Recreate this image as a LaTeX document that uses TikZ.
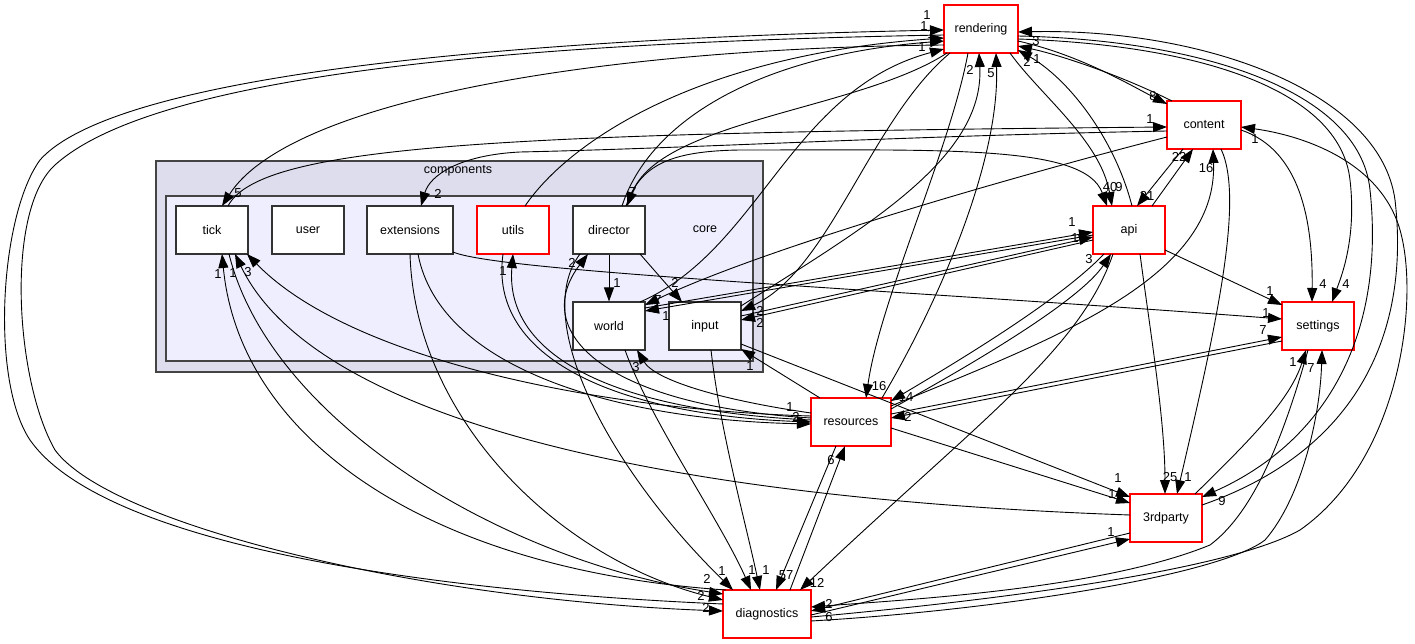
\documentclass[tikz,border=0pt]{standalone}
\usepackage{fontspec}
\setmainfont{Liberation Sans}
\usetikzlibrary{arrows.meta}
\definecolor{clout}{HTML}{DDDDEE}
\definecolor{clin}{HTML}{EEEEFF}
\definecolor{clbd}{HTML}{444444}
\definecolor{nbd}{HTML}{333333}
\newcommand\nodefnt{\fontsize{12.5}{14}\selectfont}
\newcommand\labfnt{\fontsize{13}{14}\selectfont}
\newcommand\lbl[4]{\node[lab] (#1) at (#2,#3) {#4};}
\begin{document}
\begin{tikzpicture}[x=1pt,y=-1pt,
  inbox/.style={draw=nbd, fill=white, line width=1.1pt, minimum width=72pt, minimum height=48pt, inner sep=0pt, font=\nodefnt},
  rbox/.style={inbox, draw=red},
  e/.style={line width=0.9pt, -{Triangle[length=14pt,width=10pt]}},
  lab/.style={font=\labfnt, inner sep=0pt},
  clus/.style={draw=clbd, line width=1.6pt, inner sep=0pt, anchor=north west}]
\useasboundingbox (0,0) rectangle (1415,644);
% clusters
\node[clus, fill=clout, minimum width=607pt, minimum height=211pt] (compcl) at (155,160) {};
\node[font=\nodefnt, inner sep=0pt] (complab) at (458,171) {components};
\node[clus, fill=clin, minimum width=587pt, minimum height=165pt] (corecl) at (165,195) {};
\node[font=\nodefnt, inner sep=0pt] (corelab) at (705,229) {core};
% nodes
\node[rbox, minimum width=74pt] (rend) at (981,29) {rendering};
\node[rbox, minimum width=74pt] (cont) at (1204,125) {content};
\node[rbox] (api) at (1129,230) {api};
\node[rbox] (sett) at (1318,326) {settings};
\node[rbox, minimum width=80pt] (res) at (851,422) {resources};
\node[rbox] (third) at (1166,518) {3rdparty};
\node[rbox, minimum width=88pt] (diag) at (767,614) {diagnostics};
\node[inbox] (tick) at (212,230) {tick};
\node[inbox] (user) at (308,230) {user};
\node[inbox, minimum width=86pt] (ext) at (410,230) {extensions};
\node[rbox] (utils) at (513,230) {utils};
\node[inbox] (dir) at (609,230) {director};
\node[inbox] (world) at (609,326) {world};
\node[inbox] (input) at (705,326) {input};
% far left
\draw[e] ([shift={(-44,-10)}]diag.center) .. controls (400,590) and (100,540) .. (30,440) .. controls (-10,380) and (0,215) .. (40,160) .. controls (120,70) and (550,38) .. ([shift={(-37,1)}]rend.center);
\draw[e] ([shift={(-37,6)}]rend.center) .. controls (550,42) and (160,70) .. (55,165) .. controls (5,210) and (15,380) .. (55,450) .. controls (110,525) and (420,600) .. ([shift={(-44,-3)}]diag.center);
% rendering
\draw[e] ([shift={(-37,16)}]rend.center) .. controls (600,48) and (290,100) .. ([shift={(10,-24)}]tick.center);
\draw[e] ([shift={(12,-24)}]utils.center) .. controls (570,140) and (700,55) .. ([shift={(-37,9)}]rend.center);
\draw[e] ([shift={(13,-24)}]dir.center) .. controls (650,120) and (760,55) .. ([shift={(-37,12)}]rend.center);
\draw[e] ([shift={(31,-24)}]world.center) .. controls (760,250) and (790,90) .. ([shift={(-37,20)}]rend.center);
\draw[e] ([shift={(-31,24)}]rend.center) .. controls (870,120) and (830,270) .. ([shift={(36,-15)}]input.center);
\draw[e] ([shift={(-13,24)}]rend.center) .. controls (950,150) and (880,300) .. ([shift={(15,-24)}]res.center);
\draw[e] ([shift={(31,-24)}]res.center) .. controls (940,300) and (1000,160) .. ([shift={(15,24)}]rend.center);
\draw[e] ([shift={(36,-20)}]input.center) .. controls (860,230) and (985,160) .. ([shift={(-2,24)}]rend.center);
\draw[e] ([shift={(37,12)}]rend.center) .. controls (1080,55) and (1130,85) .. ([shift={(-37,-21)}]cont.center);
\draw[e] ([shift={(-32,-24)}]cont.center) .. controls (1120,75) and (1060,55) .. ([shift={(37,17)}]rend.center);
\draw[e] ([shift={(3,-24)}]api.center) .. controls (1115,140) and (1070,80) .. ([shift={(37,21)}]rend.center);
\draw[e] ([shift={(29,24)}]rend.center) .. controls (1040,95) and (1100,140) .. ([shift={(-17,-24)}]api.center);
\draw[e] ([shift={(37,7)}]rend.center) .. controls (1200,40) and (1360,90) .. (1370,190) .. controls (1385,330) and (1330,440) .. ([shift={(36,-21)}]third.center);
\draw[e] ([shift={(36,-13)}]third.center) .. controls (1360,450) and (1410,330) .. (1395,200) .. controls (1380,90) and (1200,28) .. ([shift={(37,3)}]rend.center);
\draw[e] ([shift={(37,10)}]rend.center) .. controls (1200,45) and (1340,90) .. (1350,180) .. controls (1357,240) and (1340,280) .. ([shift={(14,-24)}]sett.center);
\draw[e] ([shift={(-34,24)}]rend.center) .. controls (860,110) and (660,120) .. ([shift={(18,-24)}]dir.center);
% content
\draw[e] ([shift={(16,-24)}]tick.center) .. controls (260,145) and (500,133) .. ([shift={(-37,2)}]cont.center);
\draw[e] ([shift={(-37,6)}]cont.center) .. controls (900,136) and (700,148) .. (520,152) .. controls (460,155) and (430,175) .. ([shift={(11,-24)}]ext.center);
\draw[e] ([shift={(-37,12)}]cont.center) .. controls (1000,180) and (760,250) .. ([shift={(36,-21)}]world.center);
\draw[e] ([shift={(-21,24)}]cont.center) -- ([shift={(8,-24)}]api.center);
\draw[e] ([shift={(23,-24)}]api.center) -- ([shift={(-11,24)}]cont.center);
\draw[e] ([shift={(40,-16)}]res.center) .. controls (1050,340) and (1218,280) .. ([shift={(9,24)}]cont.center);
\draw[e] ([shift={(37,5)}]cont.center) .. controls (1300,150) and (1313,220) .. ([shift={(-6,-24)}]sett.center);
\draw[e] ([shift={(17,24)}]cont.center) .. controls (1245,200) and (1215,330) .. ([shift={(11,-24)}]third.center);
\draw[e] ([shift={(44,3)}]diag.center) .. controls (1000,600) and (1230,570) .. (1300,530) .. controls (1400,460) and (1420,300) .. (1400,230) .. controls (1380,160) and (1300,135) .. ([shift={(37,2)}]cont.center);
% api
\draw[e] ([shift={(17,-24)}]dir.center) .. controls (640,165) and (670,151) .. (740,150) .. controls (950,150) and (1085,145) .. ([shift={(-22,-24)}]api.center);
\draw[e] ([shift={(36,-18)}]world.center) -- ([shift={(-36,2)}]api.center);
\draw[e] ([shift={(-36,5)}]api.center) -- ([shift={(36,-15)}]world.center);
\draw[e] ([shift={(36,-10)}]input.center) -- ([shift={(-36,7)}]api.center);
\draw[e] ([shift={(-36,10)}]api.center) -- ([shift={(36,-6)}]input.center);
\draw[e] ([shift={(36,20)}]api.center) -- ([shift={(-36,-21)}]sett.center);
\draw[e] ([shift={(-25,24)}]api.center) .. controls (1060,300) and (960,360) .. ([shift={(40,-21)}]res.center);
\draw[e] ([shift={(40,-13)}]res.center) .. controls (980,360) and (1080,300) .. ([shift={(-18,24)}]api.center);
\draw[e] ([shift={(11,24)}]api.center) .. controls (1150,330) and (1165,420) .. ([shift={(-1,-24)}]third.center);
\draw[e] ([shift={(-16,24)}]api.center) .. controls (1080,350) and (980,420) .. ([shift={(33,-24)}]diag.center);
% settings
\draw[e] ([shift={(43,22)}]ext.center) .. controls (500,272) and (900,290) .. ([shift={(-36,-7)}]sett.center);
\draw[e] ([shift={(40,-8)}]res.center) -- ([shift={(-36,11)}]sett.center);
\draw[e] ([shift={(-36,15)}]sett.center) -- ([shift={(40,-4)}]res.center);
\draw[e] ([shift={(29,-24)}]third.center) .. controls (1250,440) and (1290,400) .. ([shift={(-12,24)}]sett.center);
\draw[e] ([shift={(44,7)}]diag.center) .. controls (1000,610) and (1220,575) .. (1265,540) .. controls (1300,500) and (1320,420) .. ([shift={(4,24)}]sett.center);
\draw[e] ([shift={(-10,24)}]sett.center) .. controls (1280,450) and (1250,515) .. (1210,545) .. controls (1100,590) and (900,600) .. ([shift={(44,-7)}]diag.center);
% 3rdparty
\draw[e] ([shift={(44,1)}]diag.center) -- ([shift={(-36,21)}]third.center);
\draw[e] ([shift={(-36,15)}]third.center) -- ([shift={(44,-3)}]diag.center);
\draw[e] ([shift={(-36,-3)}]third.center) .. controls (700,500) and (320,430) .. ([shift={(23,24)}]tick.center);
% resources
\draw[e] ([shift={(-40,-9)}]res.center) .. controls (720,400) and (655,380) .. ([shift={(28,24)}]world.center);
\draw[e] ([shift={(-31,-24)}]res.center) -- ([shift={(36,23)}]input.center);
\draw[e] ([shift={(-40,-2)}]res.center) .. controls (600,410) and (505,350) .. ([shift={(0,24)}]utils.center);
\draw[e] ([shift={(-10,24)}]utils.center) .. controls (488,360) and (620,415) .. ([shift={(-40,0)}]res.center);
\draw[e] ([shift={(-40,-4)}]res.center) .. controls (600,405) and (530,330) .. ([shift={(-21,24)}]dir.center);
\draw[e] ([shift={(8,24)}]ext.center) .. controls (440,370) and (620,420) .. ([shift={(-40,2)}]res.center);
\draw[e] ([shift={(-40,-6)}]res.center) .. controls (600,410) and (350,360) .. ([shift={(35,24)}]tick.center);
\draw[e] ([shift={(-15,24)}]res.center) -- ([shift={(9,-24)}]diag.center);
\draw[e] ([shift={(23,-24)}]diag.center) -- ([shift={(-6,24)}]res.center);
\draw[e] ([shift={(40,6)}]res.center) -- ([shift={(-36,-15)}]third.center);
% director
\draw[e] (dir.south) -- (world.north);
\draw[e] ([shift={(31,24)}]dir.center) -- ([shift={(-23,-24)}]input.center);
\draw[e] ([shift={(-29,24)}]dir.center) .. controls (530,320) and (610,470) .. ([shift={(-34,-24)}]diag.center);
% to diagnostics
\draw[e] ([shift={(0,24)}]ext.center) .. controls (415,420) and (560,560) .. ([shift={(-44,-14)}]diag.center);
\draw[e] ([shift={(17,24)}]tick.center) .. controls (270,420) and (500,560) .. ([shift={(-44,-20)}]diag.center);
\draw[e] ([shift={(-41,-24)}]diag.center) .. controls (430,570) and (240,440) .. ([shift={(10,24)}]tick.center);
\draw[e] ([shift={(16,24)}]world.center) .. controls (650,420) and (720,520) .. ([shift={(-16,-24)}]diag.center);
\draw[e] ([shift={(6,24)}]input.center) .. controls (720,430) and (745,520) .. ([shift={(-7,-24)}]diag.center);
\draw[e] ([shift={(36,18)}]input.center) -- ([shift={(-36,-21)}]third.center);
% labels
\lbl{la1}{927}{15}{1}
\lbl{la2}{706}{608}{2}
\lbl{la3}{238}{193}{5}
\lbl{la4}{924}{26}{1}
\lbl{la5}{931}{34}{1}
\lbl{la6}{922}{47}{1}
\lbl{la7}{760}{311}{2}
\lbl{la8}{879}{386}{16}
\lbl{la9}{991}{73}{5}
\lbl{la10}{970}{70}{2}
\lbl{la11}{1153}{96}{8}
\lbl{la12}{1027}{62}{2}
\lbl{la13}{1037}{59}{1}
\lbl{la14}{1119}{187}{9}
\lbl{la15}{1222}{501}{9}
\lbl{la16}{1036}{41}{3}
\lbl{la17}{1346}{284}{4}
\lbl{la18}{633}{192}{7}
\lbl{lc1}{1150}{119}{1}
\lbl{lc2}{438}{194}{2}
\lbl{lc3}{658}{300}{7}
\lbl{lc4}{1147}{196}{31}
\lbl{lc5}{1179}{157}{22}
\lbl{lc6}{1206}{168}{16}
\lbl{lc8}{1323}{284}{4}
\lbl{lc9}{1188}{477}{1}
\lbl{lc10}{1255}{139}{1}
\lbl{lp1}{1110}{187}{40}
\lbl{lp2}{1072}{222}{1}
\lbl{lp3}{666}{316}{1}
\lbl{lp4}{1075}{238}{1}
\lbl{lp5}{760}{323}{2}
\lbl{lp6}{1270}{291}{1}
\lbl{lp7}{906}{397}{14}
\lbl{lp8}{1089}{259}{3}
\lbl{lp9}{1170}{477}{25}
\lbl{lp10}{817}{583}{12}
\lbl{ls1}{1266}{313}{1}
\lbl{ls2}{1263}{330}{7}
\lbl{ls3}{908}{417}{2}
\lbl{ls4}{1293}{362}{1}
\lbl{ls5}{1311}{368}{7}
\lbl{ls6}{829}{604}{2}
\lbl{lt1}{1111}{532}{1}
\lbl{lt2}{829}{617}{6}
\lbl{lt3}{233}{273}{1}
\lbl{lr1}{636}{367}{3}
\lbl{lr2}{750}{366}{1}
\lbl{lr3}{503}{271}{1}
\lbl{lr4}{790}{407}{1}
\lbl{lr5}{572}{263}{2}
\lbl{lr6}{796}{417}{2}
\lbl{lr7}{248}{272}{3}
\lbl{lr8}{786}{575}{57}
\lbl{lr9}{831}{460}{6}
\lbl{lr10}{1112}{494}{1}
\lbl{ld1}{617}{283}{1}
\lbl{ld2}{675}{283}{2}
\lbl{ld3}{722}{571}{1}
\lbl{lx1}{701}{596}{2}
\lbl{lx2}{707}{579}{2}
\lbl{lx3}{218}{274}{1}
\lbl{lx4}{752}{570}{1}
\lbl{lx5}{766}{570}{1}
\lbl{lx6}{1118}{478}{1}
\end{tikzpicture}
\end{document}
